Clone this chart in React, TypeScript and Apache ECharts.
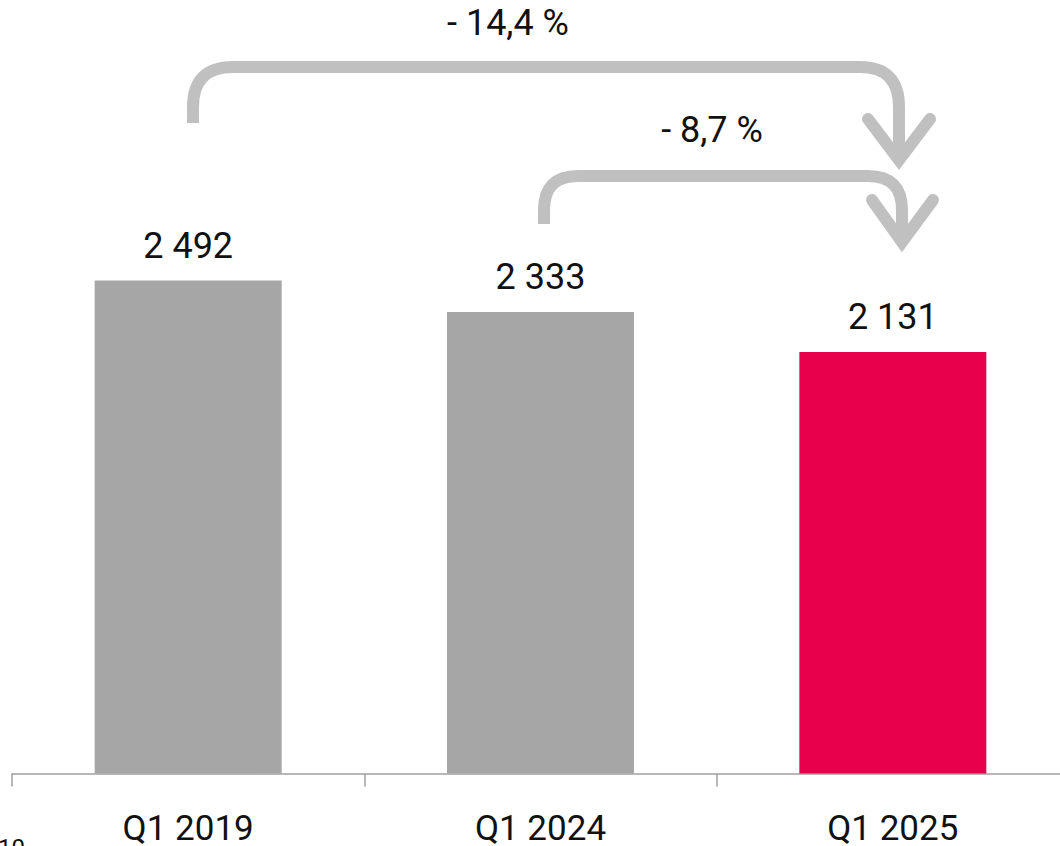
import React, { useEffect, useRef } from "react";
import * as echarts from "echarts";

const categories = ["Q1 2019", "Q1 2024", "Q1 2025"];
const values = [2492, 2333, 2131];
const valueLabels = ["2 492", "2 333", "2 131"];
const barColors = ["#a6a6a6", "#a6a6a6", "#e8004c"];
const changeLabels = ["- 14,4 %", "- 8,7 %"];

const ARROW = "#c0c0c0";

echarts.graphic.registerShape(
  "arrowLong",
  echarts.graphic.extendPath(
    "M193 123 L193 107 Q193 67 233 67 L860 67 Q899 67 899 107 L899 158",
    {}
  )
);
echarts.graphic.registerShape(
  "arrowShort",
  echarts.graphic.extendPath(
    "M544 224 L544 210 Q544 176 578 176 L868 176 Q902 176 902 210 L902 241",
    {}
  )
);

export default function App() {
  const ref = useRef<HTMLDivElement>(null);
  useEffect(() => {
    if (!ref.current) return;
    const chart = echarts.init(ref.current, undefined, { renderer: "svg" });
    chart.setOption({
      animation: false,
      textStyle: { fontFamily: "Roboto" },
      grid: { left: 12, top: 0, right: 1, bottom: 71, containLabel: false },
      xAxis: {
        type: "category",
        data: categories,
        axisLine: { show: true, lineStyle: { color: "#a0a0a0", width: 1.5 } },
        axisTick: { show: true, length: 13, lineStyle: { color: "#a0a0a0", width: 1.5 } },
        axisLabel: {
          color: "#111",
          fontSize: 35,
          lineHeight: 30,
          margin: 40,
          fontFamily: "Roboto",
        },
      },
      yAxis: {
        type: "value",
        min: 0,
        max: 3910,
        show: false,
        splitLine: { show: false },
      },
      series: [
        {
          type: "bar",
          barWidth: 187,
          data: values.map((v, i) => ({ value: v, itemStyle: { color: barColors[i] } })),
          label: {
            show: true,
            position: "top",
            distance: 17,
            color: "#111",
            fontSize: 36,
            fontFamily: "Roboto",
            formatter: (p: any) => valueLabels[p.dataIndex],
          },
        },
      ],
      graphic: [
        {
          type: "arrowLong",
          style: { fill: "none", stroke: ARROW, lineWidth: 12, lineCap: "butt" },
        },
        {
          type: "polyline",
          shape: { points: [[868, 119], [899, 160], [930, 119]] },
          style: { fill: "none", stroke: ARROW, lineWidth: 12, lineCap: "round", lineJoin: "miter" },
        },
        {
          type: "arrowShort",
          style: { fill: "none", stroke: ARROW, lineWidth: 12, lineCap: "butt" },
        },
        {
          type: "polyline",
          shape: { points: [[872, 200], [902, 242], [933, 200]] },
          style: { fill: "none", stroke: ARROW, lineWidth: 12, lineCap: "round", lineJoin: "miter" },
        },
        {
          type: "text",
          x: 508,
          y: 23,
          style: {
            text: changeLabels[0],
            fontSize: 36,
            fontFamily: "Roboto",
            fill: "#111",
            align: "center",
            verticalAlign: "middle",
          },
        },
        {
          type: "text",
          x: 712,
          y: 130,
          style: {
            text: changeLabels[1],
            fontSize: 36,
            fontFamily: "Roboto",
            fill: "#111",
            align: "center",
            verticalAlign: "middle",
          },
        },
        {
          type: "text",
          x: -2,
          y: 836,
          style: {
            text: "10",
            fontSize: 24,
            fontFamily: "Roboto",
            fill: "#111",
            align: "left",
            verticalAlign: "top",
          },
        },
      ],
    });
    return () => chart.dispose();
  }, []);
  return (
    <div
      style={{
        position: "absolute",
        left: 0,
        top: 0,
        width: 1060,
        height: 846,
        overflow: "hidden",
      }}
    >
      <div ref={ref} style={{ width: 1070, height: 846 }} />
    </div>
  );
}
